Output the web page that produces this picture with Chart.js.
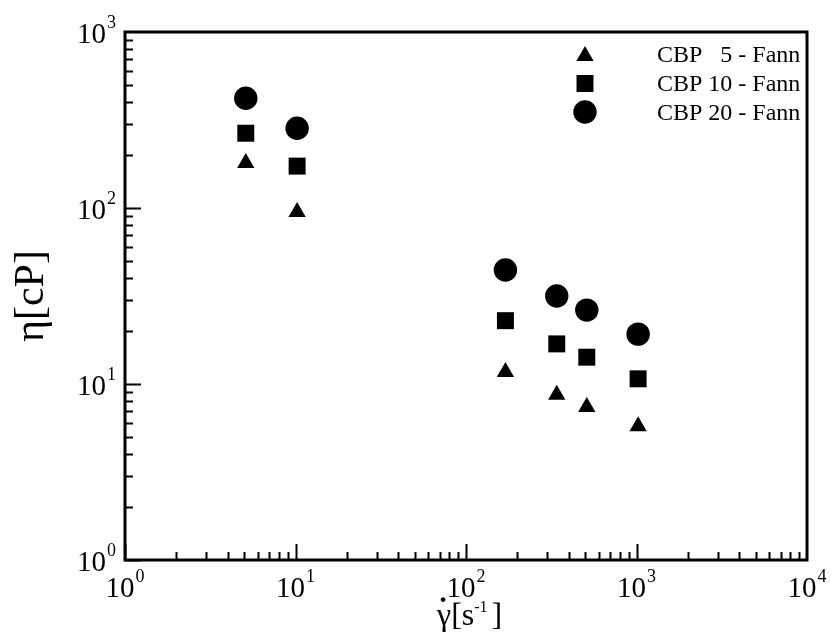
<!DOCTYPE html>
<html>
<head>
<meta charset="utf-8">
<script src="https://cdn.jsdelivr.net/npm/chart.js@4.4.1/dist/chart.umd.min.js"></script>
<style>
  body { margin: 0; background: #fff; }
  canvas { display: block; }
</style>
</head>
<body>
<canvas id="viscosity" width="831" height="634"></canvas>
<script>
// shear rate of the Fann readings [1/s]
const shearRate = [5.11, 10.22, 170.3, 340.6, 511, 1022];
// apparent viscosity [cP]
const cbp5 = [180, 95, 11.7, 8.7, 7.4, 5.75];
const cbp10 = [266, 173, 22.9, 16.9, 14.2, 10.7];
const cbp20 = [420, 284, 44.4, 31.6, 26.3, 19.2];

const seriesLabels = ['CBP   5 - Fann', 'CBP 10 - Fann', 'CBP 20 - Fann'];
const xTicks = [1, 10, 100, 1000, 10000];
const yTicks = [1, 10, 100, 1000];

const serif = '"Liberation Serif", "Times New Roman", serif';

function points(ys) {
  return shearRate.map((x, i) => ({ x: x, y: ys[i] }));
}

// "10" with a raised exponent
function drawPow(ctx, value, x, baseline, align) {
  const exp = String(Math.round(Math.log10(value)));
  ctx.font = '29px ' + serif;
  const wBase = ctx.measureText('10').width;
  ctx.font = '18px ' + serif;
  const wExp = ctx.measureText(exp).width;
  let left = x;
  if (align === 'right') left = x - wBase - wExp - 1;
  if (align === 'center') left = x - (wBase + wExp + 1) / 2;
  ctx.textAlign = 'left';
  ctx.textBaseline = 'alphabetic';
  ctx.font = '29px ' + serif;
  ctx.fillText('10', left, baseline);
  ctx.font = '18px ' + serif;
  ctx.fillText(exp, left + wBase + 1, baseline - 15);
}

const frame = {
  id: 'frame',
  afterDraw(chart) {
    const { ctx, chartArea: a } = chart;
    const x = chart.scales.x, y = chart.scales.y;
    ctx.save();
    ctx.strokeStyle = '#000';
    ctx.fillStyle = '#000';

    // inward ticks on left and bottom axes
    ctx.lineWidth = 2;
    ctx.beginPath();
    for (let d = y.min; d < y.max; d *= 10) {
      for (let m = 1; m < 10; m++) {
        const py = Math.round(y.getPixelForValue(d * m)) + 0.5;
        const len = m === 1 ? 16 : 8;
        ctx.moveTo(a.left, py);
        ctx.lineTo(a.left + len, py);
      }
    }
    for (let d = x.min; d < x.max; d *= 10) {
      for (let m = 1; m < 10; m++) {
        const px = Math.round(x.getPixelForValue(d * m)) + 0.5;
        const len = m === 1 ? 16 : 8;
        ctx.moveTo(px, a.bottom);
        ctx.lineTo(px, a.bottom - len);
      }
    }
    ctx.stroke();

    ctx.lineWidth = 3;
    ctx.strokeRect(a.left, a.top, a.right - a.left, a.bottom - a.top);

    // tick labels
    yTicks.forEach(v => drawPow(ctx, v, a.left - 9, y.getPixelForValue(v) + 11, 'right'));
    xTicks.forEach(v => drawPow(ctx, v, x.getPixelForValue(v), a.bottom + 37, 'center'));

    // axis titles
    ctx.textBaseline = 'alphabetic';
    ctx.save();
    ctx.translate(43, (a.top + a.bottom) / 2);
    ctx.rotate(-Math.PI / 2);
    ctx.textAlign = 'center';
    ctx.font = '42px ' + serif;
    ctx.fillText('\u03b7[cP]', 0, 0);
    ctx.restore();

    ctx.textAlign = 'left';
    const tb = 625;
    let tx = 437;
    ctx.font = '32px ' + serif;
    const wg = ctx.measureText('\u03b3').width;
    ctx.fillText('\u03b3', tx, tb);
    ctx.textAlign = 'center';
    ctx.font = 'bold 32px ' + serif;
    ctx.fillText('\u02d9', tx + wg / 2 - 1, tb - 6);
    ctx.textAlign = 'left';
    ctx.font = '32px ' + serif;
    tx += wg;
    ctx.fillText('[s', tx, tb);
    tx += ctx.measureText('[s').width;
    ctx.font = '16px ' + serif;
    ctx.fillText('-1', tx, tb - 13);
    tx += ctx.measureText('-1').width + 4;
    ctx.font = '32px ' + serif;
    ctx.fillText(']', tx, tb);

    // legend
    const rows = [[56, 62], [83.5, 91], [112, 120]];
    chart.data.datasets.forEach((ds, i) => {
      Chart.helpers.drawPoint(ctx, {
        pointStyle: ds.pointStyle, radius: ds.pointRadius, rotation: 0, borderWidth: 0
      }, 585, rows[i][0]);
      ctx.font = '24px ' + serif;
      ctx.textAlign = 'left';
      ctx.fillText(ds.label, 657, rows[i][1]);
    });
    ctx.restore();
  }
};

new Chart(document.getElementById('viscosity'), {
  type: 'scatter',
  data: {
    datasets: [
      { label: seriesLabels[0], data: points(cbp5), pointStyle: 'triangle', pointRadius: 10 },
      { label: seriesLabels[1], data: points(cbp10), pointStyle: 'rect', pointRadius: 12 },
      { label: seriesLabels[2], data: points(cbp20), pointStyle: 'circle', pointRadius: 11.7 }
    ].map(ds => Object.assign(ds, {
      backgroundColor: '#000', borderWidth: 0, pointHoverRadius: ds.pointRadius
    }))
  },
  options: {
    responsive: false,
    animation: false,
    layout: { padding: { left: 125, right: 24, top: 32, bottom: 74 } },
    plugins: { legend: { display: false }, tooltip: { enabled: false } },
    scales: {
      x: { type: 'logarithmic', min: 1, max: 10000, display: false },
      y: { type: 'logarithmic', min: 1, max: 1000, display: false }
    }
  },
  plugins: [frame]
});
</script>
</body>
</html>
